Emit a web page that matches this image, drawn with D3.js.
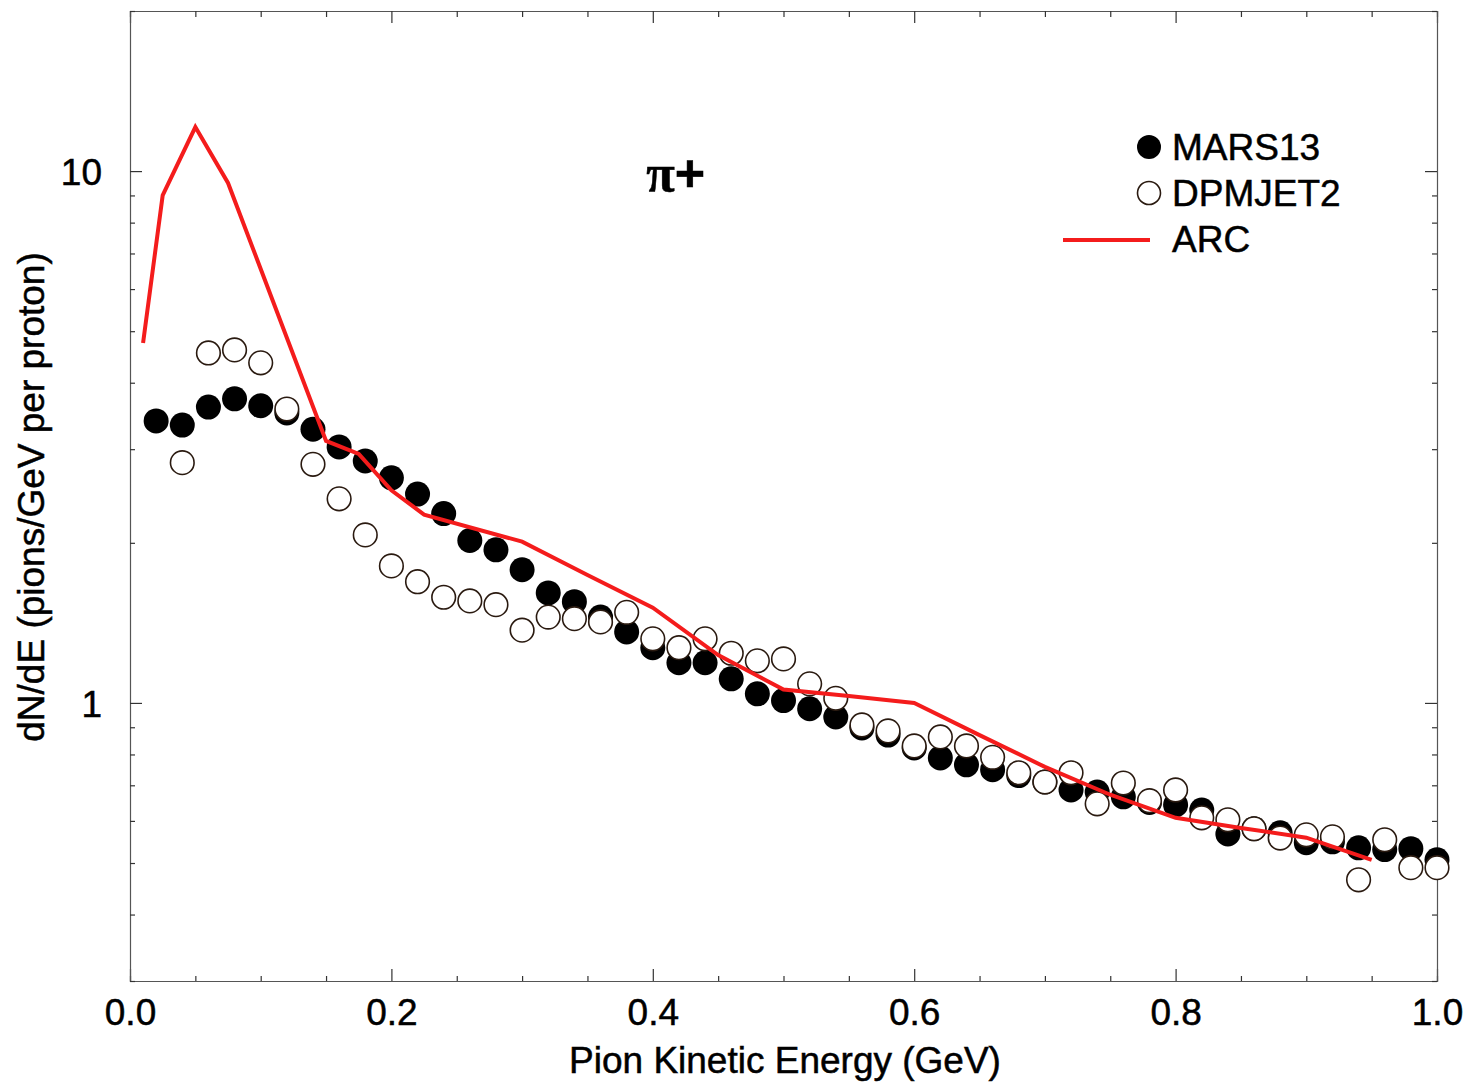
<!DOCTYPE html>
<html>
<head>
<meta charset="utf-8">
<script src="https://cdn.jsdelivr.net/npm/d3@7"></script>
<style>
  body { margin: 0; background: #ffffff; }
  svg text { font-family: "Liberation Sans", Arial, Helvetica, sans-serif; fill: #000; stroke: #000; stroke-width: 0.5px; }
</style>
</head>
<body>
<div id="chart-container"></div>
<script>
// Pion energies (GeV) at which MARS13 was evaluated
var marsEnergy = [0.02, 0.04, 0.06, 0.08, 0.10, 0.12, 0.14, 0.16, 0.18, 0.20,
  0.22, 0.24, 0.26, 0.28, 0.30, 0.32, 0.34, 0.36, 0.38, 0.40,
  0.42, 0.44, 0.46, 0.48, 0.50, 0.52, 0.54, 0.56, 0.58, 0.60,
  0.62, 0.64, 0.66, 0.68, 0.70, 0.72, 0.74, 0.76, 0.78, 0.80,
  0.82, 0.84, 0.86, 0.88, 0.90, 0.92, 0.94, 0.96, 0.98, 1.00];
var marsValues = [3.39, 3.33, 3.60, 3.73, 3.62, 3.51, 3.27, 3.03, 2.85, 2.65,
  2.47, 2.27, 2.02, 1.94, 1.78, 1.61, 1.55, 1.45, 1.36, 1.27,
  1.19, 1.19, 1.11, 1.04, 1.01, 0.975, 0.941, 0.897, 0.87, 0.823,
  0.788, 0.765, 0.749, 0.73, 0.71, 0.686, 0.68, 0.666, 0.65, 0.643,
  0.629, 0.567, 0.58, 0.57, 0.546, 0.548, 0.534, 0.53, 0.532, 0.507];

// DPMJET2 starts one bin later
var dpmEnergy = [0.04, 0.06, 0.08, 0.10, 0.12, 0.14, 0.16, 0.18, 0.20,
  0.22, 0.24, 0.26, 0.28, 0.30, 0.32, 0.34, 0.36, 0.38, 0.40,
  0.42, 0.44, 0.46, 0.48, 0.50, 0.52, 0.54, 0.56, 0.58, 0.60,
  0.62, 0.64, 0.66, 0.68, 0.70, 0.72, 0.74, 0.76, 0.78, 0.80,
  0.82, 0.84, 0.86, 0.88, 0.90, 0.92, 0.94, 0.96, 0.98, 1.00];
var dpmValues = [2.83, 4.55, 4.61, 4.36, 3.57, 2.81, 2.42, 2.07, 1.81,
  1.69, 1.58, 1.555, 1.53, 1.37, 1.45, 1.44, 1.42, 1.48, 1.32,
  1.27, 1.32, 1.24, 1.20, 1.21, 1.086, 1.02, 0.909, 0.886, 0.83,
  0.863, 0.83, 0.79, 0.739, 0.71, 0.739, 0.646, 0.707, 0.655, 0.686,
  0.608, 0.603, 0.58, 0.557, 0.565, 0.56, 0.465, 0.553, 0.49, 0.49];

// ARC curve
var arcEnergy = [0.01, 0.025, 0.05, 0.075, 0.15, 0.175, 0.20, 0.225, 0.30,
  0.35, 0.40, 0.45, 0.50, 0.55, 0.60, 0.65, 0.70, 0.75, 0.80, 0.85, 0.90, 0.95];
var arcValues = [4.75, 9.0, 12.1, 9.5, 3.11, 2.94, 2.51, 2.26, 2.01,
  1.74, 1.51, 1.23, 1.06, 1.03, 1.0, 0.87, 0.758, 0.672, 0.608, 0.582, 0.558, 0.507];

// Axis tick values
var xTicks = [0, 0.05, 0.1, 0.15, 0.2, 0.25, 0.3, 0.35, 0.4, 0.45, 0.5,
  0.55, 0.6, 0.65, 0.7, 0.75, 0.8, 0.85, 0.9, 0.95, 1.0];
var xLabels = [0, 0.2, 0.4, 0.6, 0.8, 1.0];
var yTicks = [0.3, 0.4, 0.5, 0.6, 0.7, 0.8, 0.9, 1, 2, 3, 4, 5, 6, 7, 8, 9, 10, 20];
var yLabels = [1, 10];

// Chart size and margins
var margin = { top: 11, right: 33, bottom: 103, left: 130 };
var width = 1470 - margin.left - margin.right;
var height = 1084 - margin.top - margin.bottom;

var svg = d3
  .select("#chart-container")
  .append("svg")
  .attr("width", 1470)
  .attr("height", 1084);

var g = svg
  .append("g")
  .attr("transform", "translate(" + margin.left + "," + margin.top + ")");

// Scales
var xScale = d3.scaleLinear().domain([0, 1]).range([0, width]);
var yScale = d3.scaleLog().domain([0.3, 20]).range([height, 0]);

function isMajorX(d) {
  return Math.abs(d * 5 - Math.round(d * 5)) < 1e-6;
}
function isMajorY(d) {
  return yLabels.indexOf(d) >= 0;
}

// Bottom axis
var xAxis = d3
  .axisBottom(xScale)
  .tickValues(xTicks)
  .tickSize(-5)
  .tickPadding(18)
  .tickFormat(function (d) {
    return isMajorX(d) ? d3.format(".1f")(d) : "";
  });
var gx = g.append("g").attr("transform", "translate(0," + height + ")").call(xAxis);
gx.selectAll(".tick line").attr("y2", function (d) { return isMajorX(d) ? -12 : -5; });

// Top axis
var gxt = g.append("g").call(d3.axisTop(xScale).tickValues(xTicks).tickSize(-6).tickFormat(""));
gxt.selectAll(".tick line").attr("y2", function (d) { return isMajorX(d) ? 12 : 6; });

// Left axis
var yAxis = d3
  .axisLeft(yScale)
  .tickValues(yTicks)
  .tickSize(-5)
  .tickPadding(28)
  .tickFormat(function (d) {
    return isMajorY(d) ? d : "";
  });
var gy = g.append("g").call(yAxis);
gy.selectAll(".tick line").attr("x2", function (d) { return isMajorY(d) ? 12 : 5; });

// Right axis
var gyr = g.append("g").attr("transform", "translate(" + width + ",0)")
  .call(d3.axisRight(yScale).tickValues(yTicks).tickSize(-5).tickFormat(""));
gyr.selectAll(".tick line").attr("x2", function (d) { return isMajorY(d) ? -12 : -5; });

// Style the frame and ticks
svg.selectAll(".domain").attr("stroke", "#555").attr("stroke-width", 1.2);
svg.selectAll(".tick line").attr("stroke", "#333").attr("stroke-width", 1.2);
svg.selectAll(".tick text")
  .style("font-size", "37px")
  .style("font-family", "'Liberation Sans', Arial, sans-serif")
  .attr("fill", "#000");
gy.selectAll(".tick text").attr("dy", "0.36em");

// MARS13 filled circles
g.append("g")
  .selectAll("circle")
  .data(marsEnergy)
  .enter()
  .append("circle")
  .attr("cx", function (d) { return xScale(d); })
  .attr("cy", function (d, i) { return yScale(marsValues[i]); })
  .attr("r", 12.5)
  .attr("fill", "#000");

// DPMJET2 open circles, drawn on top
g.append("g")
  .selectAll("circle")
  .data(dpmEnergy)
  .enter()
  .append("circle")
  .attr("cx", function (d) { return xScale(d); })
  .attr("cy", function (d, i) { return yScale(dpmValues[i]); })
  .attr("r", 11.8)
  .attr("fill", "#fff")
  .attr("stroke", "#2a1a10")
  .attr("stroke-width", 1.6);

// ARC line
var line = d3
  .line()
  .x(function (d) { return xScale(d); })
  .y(function (d, i) { return yScale(arcValues[i]); });

g.append("path")
  .datum(arcEnergy)
  .attr("d", line)
  .attr("fill", "none")
  .attr("stroke", "#f41c1c")
  .attr("stroke-width", 4)
  .attr("stroke-linejoin", "miter");

// Particle label
var pi = g.append("text")
  .attr("x", xScale(0.395))
  .attr("y", yScale(10) + 20)
  .style("font-size", "52px");
pi.append("tspan").style("font-family", "'Liberation Serif', serif").style("font-weight", "bold").text("π");
pi.append("tspan").style("font-family", "'Liberation Sans', sans-serif").style("font-weight", "bold").text("+");

// Legend
var legend = svg.append("g").attr("transform", "translate(1149,147)");
legend.append("circle").attr("cx", 0).attr("cy", 0).attr("r", 12).attr("fill", "#000");
legend.append("circle").attr("cx", 0).attr("cy", 46).attr("r", 11.5)
  .attr("fill", "#fff").attr("stroke", "#2a1a10").attr("stroke-width", 1.6);
legend.append("line").attr("x1", -86).attr("x2", 1).attr("y1", 93).attr("y2", 93)
  .attr("stroke", "#f41c1c").attr("stroke-width", 4);
var legendNames = ["MARS13", "DPMJET2", "ARC"];
legend.selectAll("text.leg")
  .data(legendNames)
  .enter()
  .append("text")
  .attr("class", "leg")
  .attr("x", 23)
  .attr("y", function (d, i) { return i * 46 + 13; })
  .style("font-size", "37px")
  .text(function (d) { return d; });

// Axis titles
svg.append("text")
  .attr("x", 785)
  .attr("y", 1073)
  .style("text-anchor", "middle")
  .style("font-size", "37px")
  .text("Pion Kinetic Energy (GeV)");

svg.append("text")
  .attr("transform", "translate(44,497) rotate(-90)")
  .style("text-anchor", "middle")
  .style("font-size", "37px")
  .text("dN/dE (pions/GeV per proton)");
</script>
</body>
</html>
